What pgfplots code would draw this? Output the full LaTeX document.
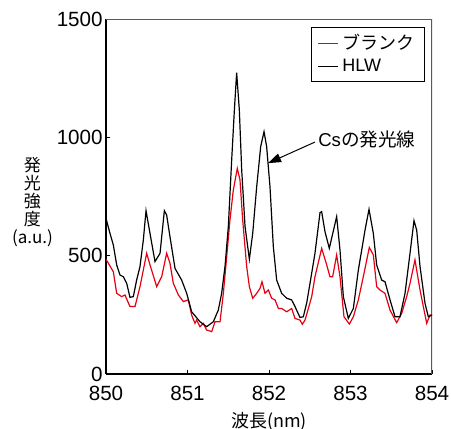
\documentclass[border=0pt]{standalone}
\usepackage{pgfplots}
\pgfplotsset{compat=1.18}
\usepackage{fontspec}
\setmainfont{Liberation Sans}
\newfontfamily\jp{Noto Sans CJK JP}
\usetikzlibrary{arrows.meta}
\definecolor{spred}{RGB}{230,0,18}
\begin{document}
\begin{tikzpicture}
\begin{axis}[
  scale only axis,
  width=163pt, height=177.5pt,
  xmin=850, xmax=854, ymin=0, ymax=1500,
  xtick={850,851,852,853,854},
  ytick={0,500,1000,1500},
  /pgf/number format/assume math mode=true,
  /pgf/number format/set thousands separator={},
  tick label style={font=\fontsize{10.3}{11}\selectfont, inner sep=0pt},
  xticklabel style={anchor=center, yshift=-9.5pt},
  yticklabel style={anchor=east, xshift=-1.5pt},
  major tick length=2pt,
  tick style={black, line width=0.5pt},
  axis line style={line width=0.6pt},
  axis x line*=bottom, axis y line*=left,
  xlabel={\jp 波長(nm)},
  xlabel style={font=\fontsize{9}{11}\selectfont, inner sep=0pt, at={(axis description cs:0.5,0)}, anchor=center, yshift=-24pt},
  legend style={at={(0.9785,0.9775)}, anchor=north east, draw=black, line width=0.5pt,
    font=\fontsize{9}{10.5}\selectfont, inner xsep=3pt, inner ysep=1.5pt, row sep=-1pt},
  legend cell align=left,
  legend image code/.code={\draw[#1, line width=0.7pt] (0pt,0pt) -- (10pt,0pt);},
]
\draw[gray!70!black, line width=0.6pt] (rel axis cs:0,1) -- (rel axis cs:1,1) -- (rel axis cs:1,0);
\addplot[spred, line width=0.6pt] coordinates {
(850.000,485) (850.090,432) (850.131,341) (850.192,327) (850.233,334) (850.294,285)
(850.356,285) (850.417,369) (850.499,510) (850.540,461) (850.622,369) (850.683,411)
(850.744,510) (850.785,468) (850.826,383) (850.888,334) (850.949,306) (851.010,313)
(851.051,249) (851.092,214) (851.112,228) (851.153,200) (851.194,214) (851.235,186)
(851.297,179) (851.337,221) (851.399,221) (851.440,341) (851.481,496) (851.521,651)
(851.562,777) (851.611,869) (851.644,820) (851.677,651) (851.726,454) (851.759,369)
(851.800,320) (851.849,341) (851.890,362) (851.914,390) (851.951,341) (851.992,355)
(852.033,320) (852.074,313) (852.115,277) (852.155,277) (852.217,263) (852.278,277) (852.319,235)
(852.380,228) (852.409,210) (852.442,228) (852.483,277) (852.524,327) (852.564,411)
(852.646,531) (852.708,461) (852.748,411) (852.781,411) (852.830,503) (852.871,411)
(852.920,242) (852.986,211) (853.035,242) (853.096,313) (853.157,411) (853.231,535)
(853.280,503) (853.321,369) (853.362,355) (853.423,341) (853.485,270) (853.566,217)
(853.628,256) (853.689,327) (853.730,383) (853.791,482) (853.853,355) (853.935,214)
(853.975,249) (854.000,249)
};
\addlegendentry{\jp ブランク\hspace{10pt}}
\addplot[black, line width=0.6pt] coordinates {
(850.000,658) (850.049,594) (850.090,545) (850.131,461) (850.172,418) (850.213,411)
(850.254,383) (850.294,324) (850.335,327) (850.376,397) (850.417,454) (850.458,566)
(850.491,690) (850.540,594) (850.601,475) (850.663,510) (850.716,690) (850.744,672)
(850.785,580) (850.847,446) (850.928,397) (850.990,341) (851.051,263) (851.153,221)
(851.235,200) (851.317,221) (851.378,270) (851.419,341) (851.460,454) (851.501,623)
(851.542,904) (851.575,1115) (851.603,1273) (851.636,1115) (851.665,862) (851.706,623)
(851.759,485) (851.800,594) (851.849,792) (851.898,961) (851.939,1024) (851.971,961)
(852.012,792) (852.053,538) (852.094,397) (852.155,341) (852.217,320) (852.278,313) (852.319,285)
(852.380,239) (852.421,242) (852.462,299) (852.503,383) (852.564,510) (852.626,682)
(852.646,686) (852.687,601) (852.740,531) (852.830,665) (852.871,524) (852.912,327)
(852.973,235) (853.035,277) (853.096,439) (853.178,608) (853.227,696) (853.280,594)
(853.321,461) (853.382,397) (853.423,390) (853.485,313) (853.546,242) (853.607,242)
(853.669,341) (853.730,510) (853.779,648) (853.812,608) (853.853,454) (853.914,299)
(853.955,242) (854.000,249)
};
\addlegendentry{HLW}
\draw[-{Triangle[length=6.5pt,width=4.5pt]}, line width=0.5pt] (axis cs:852.564,980) -- (axis cs:851.988,891);
\node[anchor=west, inner sep=0pt, font=\fontsize{9.3}{11}\selectfont] at (axis cs:852.60,989) {Cs{\jp の発光線}};
\coordinate (ll) at (rel axis cs:0,0);
\coordinate (ur) at (rel axis cs:1,1);
\coordinate (yl) at (axis cs:850,725);
\end{axis}
\node[align=center, inner sep=0pt, font=\fontsize{8.5}{9}\selectfont] at ([xshift=-36.75pt]yl) {\jp 発\\\jp 光\\\jp 強\\\jp 度\\\jp (a.u.)};
\pgfresetboundingbox
\useasboundingbox ([xshift=-53pt,yshift=-27pt]ll) rectangle ([xshift=9.5pt,yshift=9.5pt]ur);
\end{tikzpicture}
\end{document}
